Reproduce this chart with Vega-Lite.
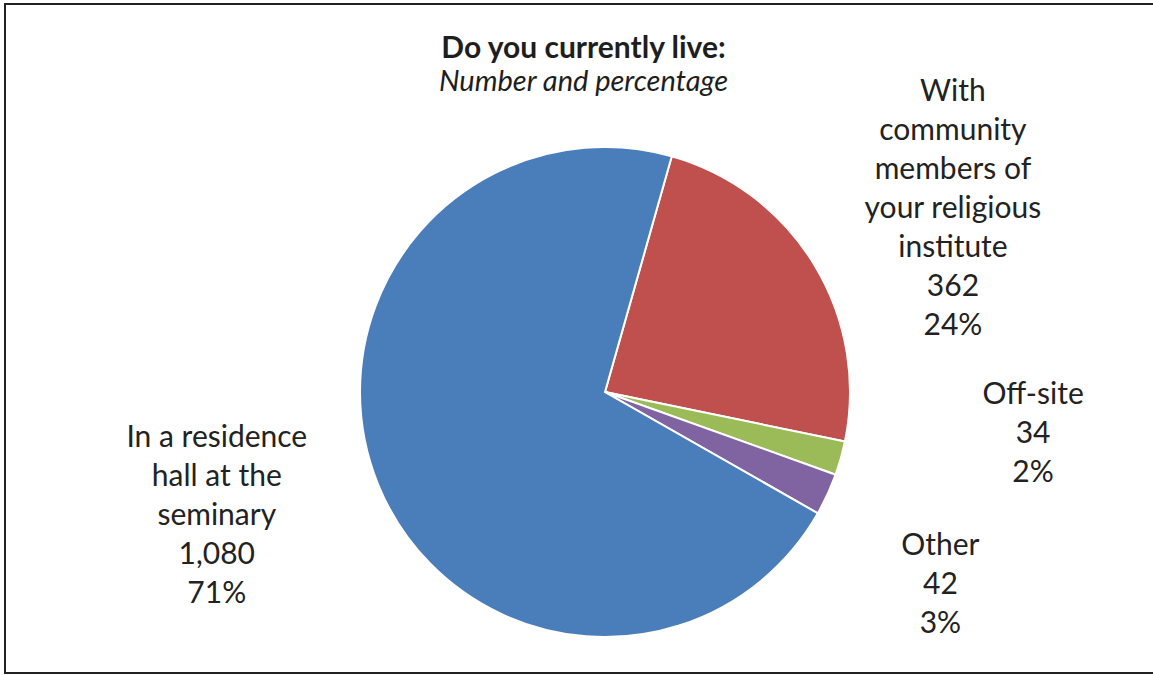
{
  "$schema": "https://vega.github.io/schema/vega-lite/v6.json",
  "width": 1153,
  "height": 675,
  "autosize": {"type": "fit", "contains": "padding"},
  "padding": {"left": 5, "top": 4, "right": -3, "bottom": 2},
  "background": "white",
  "view": {"stroke": "#222222", "strokeWidth": 2, "fill": "white"},
  "config": {"view": {"stroke": "#222222", "strokeWidth": 2}, "font": "Lato"},
  "title": {
    "text": "Do you currently live:",
    "subtitle": "Number and percentage",
    "font": "Lato",
    "fontSize": 30,
    "fontWeight": "bold",
    "color": "#1e1e1e",
    "subtitleFont": "Lato",
    "subtitleFontSize": 29,
    "subtitleFontStyle": "italic",
    "subtitleColor": "#1e1e1e",
    "subtitlePadding": 4,
    "anchor": "middle",
    "frame": "group",
    "offset": -93,
    "dx": 3
  },
  "data": {
    "values": [
      {"category": "With community members of your religious institute", "count": 362, "label": "With|community|members of|your religious|institute|362|24%", "order": 1},
      {"category": "Off-site", "count": 34, "label": "Off-site|34|2%", "order": 2},
      {"category": "Other", "count": 42, "label": "Other|42|3%", "order": 3},
      {"category": "In a residence hall at the seminary", "count": 1080, "label": "In a residence|hall at the|seminary|1,080|71%", "order": 4}
    ]
  },
  "encoding": {
    "theta": {"field": "count", "type": "quantitative", "stack": true, "scale": {"range": [0.276, 6.5592]}},
    "order": {"field": "order", "type": "quantitative", "sort": "ascending"},
    "color": {
      "field": "category",
      "type": "nominal",
      "scale": {
        "domain": ["With community members of your religious institute", "Off-site", "Other", "In a residence hall at the seminary"],
        "range": ["#C0504D", "#9BBB59", "#8064A2", "#4A7EBB"]
      },
      "legend": null
    }
  },
  "layer": [
    {
      "mark": {"type": "arc", "outerRadius": 245, "stroke": "white", "strokeWidth": 2, "x": {"expr": "width/2 + 24.5"}, "y": {"expr": "height/2 + 53.5"}}
    },
    {
      "mark": {"type": "text", "radius": 400, "x": {"expr": "width/2 + 24.5"}, "y": {"expr": "height/2 + 53.5"}, "dx": 6, "dy": -92, "lineBreak": "|", "fontSize": 30, "lineHeight": 39, "align": "center", "baseline": "middle", "color": "#222222"},
      "encoding": {"text": {"condition": {"test": "datum.category === 'With community members of your religious institute'", "field": "label", "type": "nominal"}, "value": ""}, "color": {"value": "#222222"}}
    },
    {
      "mark": {"type": "text", "radius": 400, "x": {"expr": "width/2 + 24.5"}, "y": {"expr": "height/2 + 53.5"}, "dx": 43, "dy": -105, "lineBreak": "|", "fontSize": 30, "lineHeight": 39, "align": "center", "baseline": "middle", "color": "#222222"},
      "encoding": {"text": {"condition": {"test": "datum.category === 'Off-site'", "field": "label", "type": "nominal"}, "value": ""}, "color": {"value": "#222222"}}
    },
    {
      "mark": {"type": "text", "radius": 400, "x": {"expr": "width/2 + 24.5"}, "y": {"expr": "height/2 + 53.5"}, "dx": -28, "dy": -13, "lineBreak": "|", "fontSize": 30, "lineHeight": 39, "align": "center", "baseline": "middle", "color": "#222222"},
      "encoding": {"text": {"condition": {"test": "datum.category === 'Other'", "field": "label", "type": "nominal"}, "value": ""}, "color": {"value": "#222222"}}
    },
    {
      "mark": {"type": "text", "radius": 400, "x": {"expr": "width/2 + 24.5"}, "y": {"expr": "height/2 + 53.5"}, "dx": -18, "dy": -105, "lineBreak": "|", "fontSize": 30, "lineHeight": 39, "align": "center", "baseline": "middle", "color": "#222222"},
      "encoding": {"text": {"condition": {"test": "datum.category === 'In a residence hall at the seminary'", "field": "label", "type": "nominal"}, "value": ""}, "color": {"value": "#222222"}}
    }
  ]
}
